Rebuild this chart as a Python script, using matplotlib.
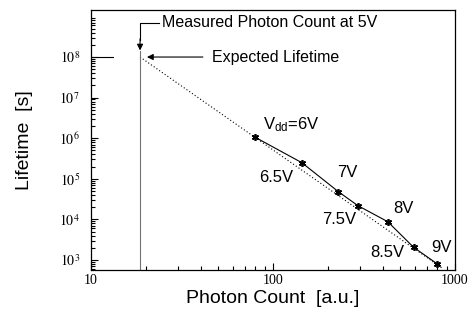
import numpy as np
import matplotlib
matplotlib.use("Agg")
import matplotlib.pyplot as plt
from matplotlib.ticker import LogLocator, FixedLocator, FixedFormatter, NullFormatter

# measured points (Vdd = 6 .. 9 V)
vdd_labels = ["V$_{\\mathrm{dd}}$=6V", "6.5V", "7V", "7.5V", "8V", "8.5V", "9V"]
photon = [80, 144, 229, 292, 427, 593, 800]
lifetime = [1.05e6, 2.5e5, 4.8e4, 2.2e4, 8.8e3, 2.05e3, 8.0e2]

# extrapolated fit (dotted)
fit_x = [18.6, 850]
fit_y = [1.0e8, 6.3e2]

# measured photon count at 5V
x_5v = 18.6

# label positions (data coords)
lab_x = [88, 104, 255, 231, 518, 423, 838]
lab_y = [2.1e6, 1.05e5, 1.4e5, 1.0e4, 1.9e4, 1.5e3, 2.0e3]
lab_ha = ["left", "center", "center", "center", "center", "center", "center"]

plt.rcParams['font.family'] = ['Liberation Sans', 'DejaVu Sans']
plt.rcParams['mathtext.fontset'] = 'stix'
plt.rcParams['mathtext.rm'] = 'Liberation Sans'
plt.rcParams['mathtext.it'] = 'Liberation Sans:italic'

fig = plt.figure(figsize=(4.69, 3.24), dpi=100)
ax = fig.add_axes([91/469, 1 - 270/324, (455 - 91)/469, (270 - 10)/324])

ax.set_xscale("log")
ax.set_yscale("log")
ax.set_xlim(10, 1000)
ax.set_ylim(568, 1.44e9)

ax.plot(fit_x, fit_y, color="black", lw=0.8, ls=(0, (1, 2)))
ax.plot(photon, lifetime, color="black", lw=0.8, marker=(6, 2, 0),
        ms=5, mew=1.2, mec="black")

for t, x, y, ha in zip(vdd_labels, lab_x, lab_y, lab_ha):
    ax.text(x, y, t, fontsize=12, ha=ha, va="center", math_fontfamily="custom")

# measured photon count annotation
top_y = 6.9e8
ax.plot([23.5, x_5v, x_5v], [top_y, top_y, 2.6e8], color="black", lw=0.8)
ax.annotate("", xy=(x_5v, 1.45e8), xytext=(x_5v, 2.8e8),
            arrowprops=dict(arrowstyle="-|>", color="black", lw=0.8,
                            mutation_scale=9, shrinkA=0, shrinkB=0))
ax.plot([x_5v, x_5v], [1.4e8, 568], color="0.45", lw=0.8)
ax.text(24.5, top_y, "Measured Photon Count at 5V", fontsize=11.5,
        ha="left", va="center")

# expected lifetime annotation
ax.annotate("", xy=(20.3, 1.0e8), xytext=(41.2, 1.0e8),
            arrowprops=dict(arrowstyle="-|>", color="black", lw=0.8,
                            mutation_scale=9, shrinkA=0, shrinkB=0))
ax.text(46.3, 1.0e8, "Expected Lifetime", fontsize=11.5, ha="left",
        va="center")
ax.plot([10, 13.2], [1.0e8, 1.0e8], color="black", lw=0.8)

# ticks
ax.xaxis.set_major_locator(FixedLocator([10, 100, 1000]))
ax.xaxis.set_major_formatter(FixedFormatter(["10", "100", "1000"]))
ax.xaxis.set_minor_locator(LogLocator(base=10, subs=np.arange(2, 10)))
ax.xaxis.set_minor_formatter(NullFormatter())
ydec = [1e3, 1e4, 1e5, 1e6, 1e7, 1e8]
ax.yaxis.set_major_locator(FixedLocator(ydec))
ax.yaxis.set_major_formatter(FixedFormatter(
    ["$10^{%d}$" % int(np.log10(v)) for v in ydec]))
ax.yaxis.set_minor_locator(LogLocator(base=10, subs=np.arange(2, 10)))
ax.yaxis.set_minor_formatter(NullFormatter())

ax.tick_params(which="both", direction="in", top=False, right=False,
               width=0.8)
ax.tick_params(which="major", length=5)
ax.tick_params(axis="x", which="major", pad=3)
ax.tick_params(axis="y", which="major", pad=8)
ax.tick_params(which="minor", length=3)
for lab in ax.get_xticklabels() + ax.get_yticklabels():
    lab.set_family("Liberation Serif")
    lab.set_fontsize(10)

for s in ax.spines.values():
    s.set_linewidth(0.9)

ax.set_xlabel("Photon Count  [a.u.]", fontsize=14, labelpad=2)
ax.set_ylabel("Lifetime  [s]", fontsize=14, labelpad=19)

fig.savefig("out.png", dpi=100)
